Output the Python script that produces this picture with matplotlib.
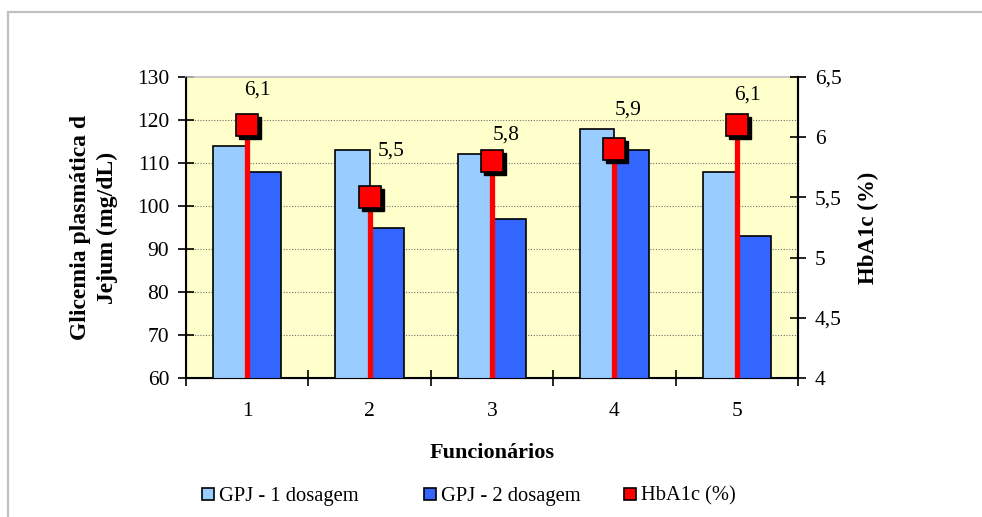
import matplotlib
matplotlib.use("Agg")
import matplotlib.pyplot as plt
import matplotlib.transforms as mtransforms
from matplotlib.patches import Rectangle
from matplotlib.lines import Line2D
import numpy as np

plt.rcParams['font.family'] = ['Liberation Serif', 'DejaVu Serif']

categories = ['1', '2', '3', '4', '5']
gpj1 = [114, 113, 112, 118, 108]
gpj2 = [108, 95, 97, 113, 93]
hba1c = [6.1, 5.5, 5.8, 5.9, 6.1]
hba1c_labels = ['6,1', '5,5', '5,8', '5,9', '6,1']
left_ticks = [60, 70, 80, 90, 100, 110, 120, 130]
right_ticks = [4, 4.5, 5, 5.5, 6, 6.5]
right_tick_labels = ['4', '4,5', '5', '5,5', '6', '6,5']
series_names = ['GPJ - 1 dosagem', 'GPJ - 2 dosagem', 'HbA1c (%)']

# label offsets in pixels (dx, dy up)
label_offsets = [(10, 35), (22, 46), (14, 26), (14, 39), (11, 30)]
# legend entry left positions in pixels
legend_x = [202, 424, 624]

c_light = '#99CCFF'
c_dark = '#3366FF'
c_red = '#FF0000'
fs = 15.5

fig = plt.figure(figsize=(9.82, 5.17), dpi=100)
ax = fig.add_axes([186/982, 1-378/517, (798-186)/982, (378-77)/517])
ax.set_facecolor('#FFFFCC')

x = np.arange(len(categories))
w = 0.28
ax.bar(x - w/2, gpj1, w, color=c_light, edgecolor='black', linewidth=1.2, zorder=3)
ax.bar(x + w/2, gpj2, w, color=c_dark, edgecolor='black', linewidth=1.2, zorder=3)

ax.set_xlim(-0.5, len(categories) - 0.5)
ax.set_ylim(60, 130)
ax.set_yticks(left_ticks)
ax.set_yticklabels([str(t) for t in left_ticks], fontsize=fs)
for t in left_ticks[1:-1]:
    ax.axhline(t, color='#707070', lw=0.8, ls=(0, (1, 1.5)), zorder=1)

ax.set_xticks(x)
ax.set_xticklabels(categories, fontsize=fs)
ax.tick_params(axis='x', length=0, pad=17)
ax.set_xticks(np.arange(-0.5, len(categories), 1), minor=True)
ax.tick_params(axis='x', which='minor', direction='inout', length=12, width=1.2, color='black')
ax.tick_params(axis='y', direction='inout', length=12, width=1.2, pad=6)

for s in ['left', 'bottom', 'right']:
    ax.spines[s].set_color('black')
    ax.spines[s].set_linewidth(1.5)
ax.spines['top'].set_color('#C0C0C0')
ax.spines['top'].set_linewidth(1.2)

ax.set_ylabel('Glicemia plasmática d\nJejum (mg/dL)', fontsize=17, fontweight='bold',
              labelpad=14, linespacing=1.3)
ax.set_xlabel('Funcionários', fontsize=16, fontweight='bold', labelpad=16)

ax2 = ax.twinx()
ax2.set_ylim(4, 6.5)
ax2.set_yticks(right_ticks)
ax2.set_yticklabels(right_tick_labels, fontsize=fs)
ax2.tick_params(axis='y', direction='inout', length=12, width=1.2, pad=6)
ax2.spines['right'].set_color('black')
ax2.spines['right'].set_linewidth(1.5)
ax2.spines['top'].set_visible(False)
ax2.set_ylabel('HbA1c (%)', fontsize=16.5, fontweight='bold', labelpad=12)

ax2.vlines(x, 4, hba1c, color=c_red, lw=3.8, zorder=4)
shadow = mtransforms.offset_copy(ax2.transData, fig=fig, x=3, y=-3, units='dots')
ax2.plot(x, hba1c, ls='none', marker='s', ms=16.5, color='black', mec='black', transform=shadow, zorder=5)
ax2.plot(x, hba1c, ls='none', marker='s', ms=16.5, color=c_red, mec='black', mew=1.2, zorder=6)
for xi, yi, lab, (dx, dy) in zip(x, hba1c, hba1c_labels, label_offsets):
    ax2.annotate(lab, (xi, yi), xytext=(dx, dy), textcoords='offset pixels',
                 ha='center', va='center', fontsize=fs, zorder=7)

colors = [c_light, c_dark, c_red]
for name, col, lx in zip(series_names, colors, legend_x):
    h = Line2D([], [], ls='none', marker='s', ms=8, mfc=col, mec='black', mew=1.2)
    fig.legend([h], [name], loc='center left', bbox_to_anchor=(lx/982, 1-496/517),
               frameon=False, fontsize=14.8, handlelength=0.6, handletextpad=0.25,
               borderpad=0, borderaxespad=0)

fig.add_artist(Rectangle((8/982, -0.1), 1.2, 0.1 + 1 - 12/517, transform=fig.transFigure,
                         fill=False, edgecolor='#C0C0C0', lw=1.6))

fig.savefig('out.png', dpi=100, facecolor='white')
